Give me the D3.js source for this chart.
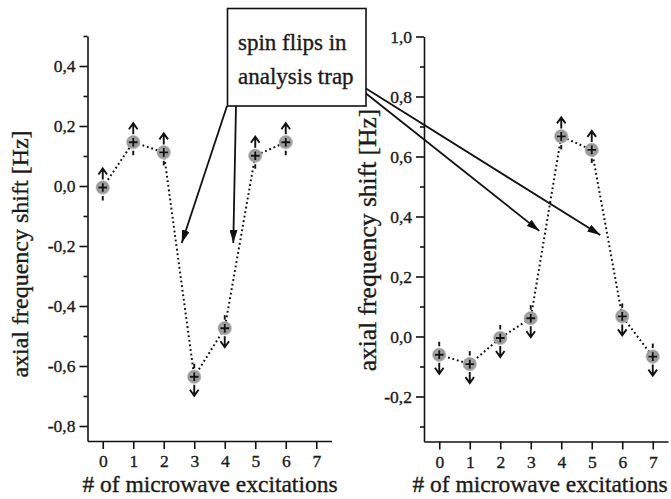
<!DOCTYPE html>
<html><head><meta charset="utf-8">
<script src="https://cdn.jsdelivr.net/npm/d3@7"></script>
<style>
body{margin:0;background:#fff}
svg{display:block}
</style>
</head><body><svg id="c" width="671" height="499"></svg>
<script>
// ---- data ----
const categories=[0,1,2,3,4,5,6,7];
const leftX=[0,1,2,3,4,5,6];
const leftValues=[-0.005,0.146,0.112,-0.636,-0.474,0.101,0.146];
const leftDir=["up","up","up","down","down","up","up"];
const rightX=[0,1,2,3,4,5,6,7];
const rightValues=[-0.061,-0.092,-0.005,0.061,0.667,0.622,0.067,-0.067];
const rightDir=["down","down","down","down","up","up","down","down"];
const leftYTicks=[-0.8,-0.6,-0.4,-0.2,0,0.2,0.4];
const leftYTickLabels=["-0,8","-0,6","-0,4","-0,2","0,0","0,2","0,4"];
const leftYMinor=[-0.7,-0.5,-0.3,-0.1,0.1,0.3,0.5];
const rightYTicks=[-0.2,0,0.2,0.4,0.6,0.8,1.0];
const rightYTickLabels=["-0,2","0,0","0,2","0,4","0,6","0,8","1,0"];
const rightYMinor=[-0.3,-0.1,0.1,0.3,0.5,0.7,0.9];
const xTickLabels=["0","1","2","3","4","5","6","7"];
const xLabel="# of microwave excitations";
const yLabel="axial frequency shift [Hz]";
const noteLines=["spin flips in","analysis trap"];
const leftArrowTips=[[2.59,-0.19],[4.28,-0.19]];
const rightArrowTips=[[3.28,0.352],[5.28,0.338]];

const FONT="Liberation Serif, Times New Roman, serif";
const svg=d3.select("#c").style("font-family",FONT);
const defs=svg.append("defs");
const g=defs.append("radialGradient").attr("id","ball").attr("cx","45%").attr("cy","45%").attr("r","55%");
g.append("stop").attr("offset","0%").attr("stop-color","#c8c8c8");
g.append("stop").attr("offset","70%").attr("stop-color","#959595");
g.append("stop").attr("offset","100%").attr("stop-color","#a9a9a9");
defs.append("marker").attr("id","ah").attr("viewBox","0 0 13 8").attr("refX",13).attr("refY",4)
  .attr("markerWidth",13).attr("markerHeight",8).attr("markerUnits","userSpaceOnUse").attr("orient","auto")
  .append("path").attr("d","M0,0 L13,4 L0,8 Z").attr("fill","#111");

const panels=[
  {xr:[87.5,331.5],yd:[-0.85,0.5],yr:[441,36],xs:leftX,vals:leftValues,dir:leftDir,
   yt:leftYTicks,ytl:leftYTickLabels,ym:leftYMinor,ytitle:[28,254],ysize:24,xtitle:210},
  {xr:[424,668],yd:[-0.35,1.0],yr:[441.5,36.5],xs:rightX,vals:rightValues,dir:rightDir,
   yt:rightYTicks,ytl:rightYTickLabels,ym:rightYMinor,ytitle:[376,240],ysize:25.5,xtitle:540}
];

function txt(sel,size){
  return sel.style("font-family",FONT).style("font-size",size+"px").style("fill","#1a1a1a")
    .style("stroke","#1a1a1a").style("stroke-width","0.35px");
}

panels.forEach(p=>{
  const x=d3.scaleLinear().domain([-0.5,7.5]).range(p.xr);
  const y=d3.scaleLinear().domain(p.yd).range(p.yr);
  p.x=x;p.y=y;
  const x0=p.xr[0], y0=p.yr[0];
  svg.append("g").attr("transform",`translate(${x0},0)`)
    .call(d3.axisLeft(y).tickValues(p.ym).tickSizeInner(4).tickSizeOuter(0).tickFormat(""))
    .call(s=>s.select(".domain").remove())
    .selectAll("line").attr("stroke","#111").attr("stroke-width",1.6);
  const ya=svg.append("g").attr("transform",`translate(${x0},0)`)
    .call(d3.axisLeft(y).tickValues(p.yt).tickSizeInner(8).tickSizeOuter(0).tickPadding(4)
      .tickFormat((d,i)=>p.ytl[i]));
  const xa=svg.append("g").attr("transform",`translate(0,${y0})`)
    .call(d3.axisBottom(x).tickValues(categories).tickSizeInner(8).tickSizeOuter(0).tickPadding(6)
      .tickFormat((d,i)=>xTickLabels[i]));
  [ya,xa].forEach(a=>{
    a.attr("font-family",null).attr("font-size",null);
    a.selectAll("path,line").attr("stroke","#111").attr("stroke-width",1.6);
    txt(a.selectAll("text"),17.5);
  });
  txt(svg.append("text").attr("transform",`translate(${p.ytitle[0]},${p.ytitle[1]}) rotate(-90)`)
    .attr("text-anchor","middle"),p.ysize).text(yLabel);
  txt(svg.append("text").attr("x",p.xtitle).attr("y",492).attr("text-anchor","middle"),23.5).text(xLabel);
  const pts=p.xs.map((d,i)=>[d,p.vals[i]]);
  svg.append("path").datum(pts)
    .attr("d",d3.line().x(d=>x(d[0])).y(d=>y(d[1])))
    .attr("fill","none").attr("stroke","#111").attr("stroke-width",2).attr("stroke-dasharray","1.8,2.8");
  const m=svg.append("g").selectAll("g").data(pts).join("g")
    .attr("transform",d=>`translate(${x(d[0])},${y(d[1])})`);
  m.each(function(d,i){
    const s=d3.select(this);
    const up=p.dir[i]==="up"?-1:1;
    s.append("path").attr("d",`M0,${8*up} L0,${19*up} M-4.3,${13*up} L0,${19*up} L4.3,${13*up}`)
      .attr("fill","none").attr("stroke","#111").attr("stroke-width",1.9);
    s.append("line").attr("x1",0).attr("x2",0).attr("y1",-8.5*up).attr("y2",-13*up)
      .attr("stroke","#111").attr("stroke-width",1.9);
    s.append("circle").attr("r",6.8).attr("fill","url(#ball)").attr("stroke","#bdbdbd").attr("stroke-width",0.6);
    s.append("path").attr("d","M-4.3,0 L4.3,0 M0,-4.3 L0,4.3").attr("stroke","#111").attr("stroke-width",1.9);
  });
});

const L=panels[0],R=panels[1];
const arrows=[
  [[227,106],[L.x(leftArrowTips[0][0]),L.y(leftArrowTips[0][1])]],
  [[236,106],[L.x(leftArrowTips[1][0]),L.y(leftArrowTips[1][1])]],
  [[366,93.5],[R.x(rightArrowTips[0][0]),R.y(rightArrowTips[0][1])]],
  [[366,88.5],[R.x(rightArrowTips[1][0]),R.y(rightArrowTips[1][1])]]
];
svg.append("g").selectAll("line").data(arrows).join("line")
  .attr("x1",d=>d[0][0]).attr("y1",d=>d[0][1]).attr("x2",d=>d[1][0]).attr("y2",d=>d[1][1])
  .attr("stroke","#111").attr("stroke-width",1.8).attr("marker-end","url(#ah)");
svg.append("rect").attr("x",227.5).attr("y",8.5).attr("width",138.5).attr("height",97.5)
  .attr("fill","#fff").attr("stroke","#111").attr("stroke-width",1.6);
txt(svg.append("g").selectAll("text").data(noteLines).join("text")
  .attr("x",238).attr("y",(d,i)=>50+i*34),23).text(d=>d);
</script></body></html>
